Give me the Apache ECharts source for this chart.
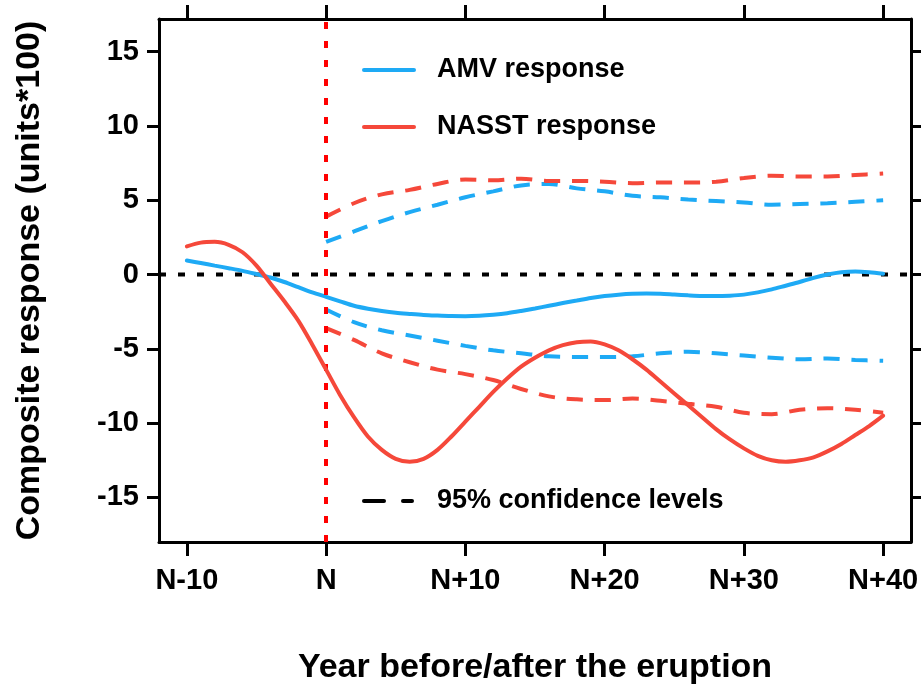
<!DOCTYPE html>
<html>
<head>
<meta charset="utf-8">
<script src="https://cdn.jsdelivr.net/npm/echarts@6/dist/echarts.min.js"></script>
<style>
html,body{margin:0;padding:0;background:#fff;}
#chart{width:922px;height:691px;}
</style>
</head>
<body>
<div id="chart"></div>
<script>
// ---- data ----
const solidYears = [-10,-9,-8,-7,-6,-5,-4,-3,-2,-1,0,1,2,3,4,5,6,7,8,9,10,11,12,13,14,15,16,17,18,19,20,21,22,23,24,25,26,27,28,29,30,31,32,33,34,35,36,37,38,39,40];
const amvResponse = [0.94,0.78,0.6,0.43,0.25,0.03,-0.2,-0.5,-0.85,-1.2,-1.5,-1.8,-2.1,-2.3,-2.45,-2.57,-2.65,-2.72,-2.76,-2.79,-2.8,-2.77,-2.7,-2.6,-2.45,-2.28,-2.1,-1.92,-1.75,-1.58,-1.45,-1.36,-1.3,-1.28,-1.3,-1.35,-1.4,-1.44,-1.45,-1.42,-1.35,-1.2,-1.0,-0.75,-0.5,-0.22,0.0,0.15,0.2,0.15,0.05];
const nasstResponse = [1.9,2.15,2.2,2.0,1.5,0.6,-0.6,-1.8,-3.1,-4.7,-6.4,-8.1,-9.6,-10.9,-11.8,-12.4,-12.6,-12.4,-11.8,-10.9,-9.9,-8.9,-7.9,-7.0,-6.2,-5.6,-5.1,-4.75,-4.55,-4.5,-4.7,-5.1,-5.7,-6.4,-7.2,-8.0,-8.8,-9.6,-10.4,-11.1,-11.7,-12.2,-12.5,-12.6,-12.5,-12.3,-11.9,-11.4,-10.8,-10.2,-9.5];

const confYears = [0,2,4,6,8,10,12,14,16,18,20,22,24,26,28,30,32,34,36,38,40];
const amvUpper = [2.2,2.9,3.6,4.2,4.7,5.2,5.6,6.0,6.1,5.8,5.6,5.3,5.2,5.05,4.95,4.85,4.7,4.75,4.8,4.9,5.0];
const amvLower = [-2.35,-3.2,-3.75,-4.1,-4.45,-4.8,-5.1,-5.3,-5.5,-5.55,-5.55,-5.5,-5.3,-5.2,-5.3,-5.45,-5.6,-5.7,-5.65,-5.75,-5.8];
const nasstUpper = [3.9,4.8,5.4,5.7,6.1,6.4,6.35,6.45,6.3,6.3,6.25,6.15,6.2,6.2,6.25,6.5,6.65,6.6,6.6,6.7,6.8];
const nasstLower = [-3.6,-4.4,-5.3,-5.9,-6.4,-6.7,-7.1,-7.7,-8.2,-8.4,-8.45,-8.35,-8.5,-8.7,-8.9,-9.3,-9.4,-9.1,-9.0,-9.1,-9.3];

const xTickValues = [-10,0,10,20,30,40];
const xTickLabels = ['N-10','N','N+10','N+20','N+30','N+40'];
const yTickValues = [-15,-10,-5,0,5,10,15];

const legendNames = ['AMV response','NASST response','95% confidence levels'];
const xTitle = 'Year before/after the eruption';
const yTitle = 'Composite response (units*100)';

// ---- styles ----
const BLUE = '#1eaaf5';
const RED = '#f5483a';
const FONT = '"Liberation Sans", Arial, Helvetica, sans-serif';

function pairs(xs, ys){ return xs.map((x,i)=>[x, ys[i]]); }
function xLabel(v){ const i = xTickValues.indexOf(v); return i >= 0 ? xTickLabels[i] : ''; }

const chart = echarts.init(document.getElementById('chart'), null, {renderer:'canvas'});

const axisLine = {show:true, onZero:false, lineStyle:{color:'#000', width:3}};

const option = {
  animation:false,
  backgroundColor:'#fff',
  grid:{left:159, right:11, top:19, bottom:149},
  xAxis:[{
    type:'value', min:-12, max:42, position:'bottom',
    axisLine:axisLine,
    axisTick:{show:true, length:14, lineStyle:{color:'#000', width:3}, customValues:xTickValues},
    axisLabel:{show:true, customValues:xTickValues, formatter:xLabel, color:'#000', fontFamily:FONT, fontWeight:'bold', fontSize:29, margin:24},
    splitLine:{show:false},
    name:xTitle, nameLocation:'middle', nameGap:109,
    nameTextStyle:{color:'#000', fontFamily:FONT, fontWeight:'bold', fontSize:34}
  },{
    type:'value', min:-12, max:42, position:'top',
    axisLine:axisLine,
    axisTick:{show:true, length:14, lineStyle:{color:'#000', width:3}, customValues:xTickValues},
    axisLabel:{show:false},
    splitLine:{show:false}
  }],
  yAxis:[{
    type:'value', min:-18, max:17.2, position:'left',
    axisLine:axisLine,
    axisTick:{show:true, length:12, lineStyle:{color:'#000', width:3}, customValues:yTickValues},
    axisLabel:{show:true, customValues:yTickValues, color:'#000', fontFamily:FONT, fontWeight:'bold', fontSize:29, margin:20},
    splitLine:{show:false},
    name:yTitle, nameLocation:'middle', nameGap:112,
    nameTextStyle:{color:'#000', fontFamily:FONT, fontWeight:'bold', fontSize:34}
  },{
    type:'value', min:-18, max:17.2, position:'right',
    axisLine:axisLine,
    axisTick:{show:true, length:10, lineStyle:{color:'#000', width:3}, customValues:yTickValues},
    axisLabel:{show:false},
    splitLine:{show:false}
  }],
  series:[
    {
      name:'zero', type:'line', data:[[-12,0],[42,0]], symbol:'none', silent:true,
      lineStyle:{color:'#000', width:4, type:[7,12]}, z:1,
      markLine:{
        silent:true, symbol:'none', label:{show:false},
        lineStyle:{color:'#ff0000', width:4, type:[7,12]},
        data:[{xAxis:0}]
      }
    },
    {name:'AMV upper', type:'line', data:pairs(confYears, amvUpper), smooth:0.35, symbol:'none',
      lineStyle:{color:BLUE, width:4, type:[16,12]}, z:3},
    {name:'AMV lower', type:'line', data:pairs(confYears, amvLower), smooth:0.35, symbol:'none',
      lineStyle:{color:BLUE, width:4, type:[16,12]}, z:3},
    {name:'NASST upper', type:'line', data:pairs(confYears, nasstUpper), smooth:0.35, symbol:'none',
      lineStyle:{color:RED, width:4, type:[16,12]}, z:3},
    {name:'NASST lower', type:'line', data:pairs(confYears, nasstLower), smooth:0.35, symbol:'none',
      lineStyle:{color:RED, width:4, type:[16,12]}, z:3},
    {name:legendNames[0], type:'line', data:pairs(solidYears, amvResponse), smooth:0.3, symbol:'none',
      lineStyle:{color:BLUE, width:4, cap:'round'}, z:4},
    {name:legendNames[1], type:'line', data:pairs(solidYears, nasstResponse), smooth:0.3, symbol:'none',
      lineStyle:{color:RED, width:4, cap:'round'}, z:5}
  ],
  graphic:[
    {type:'line', shape:{x1:364, y1:70, x2:414, y2:70}, style:{stroke:BLUE, lineWidth:4, lineCap:'round'}},
    {type:'text', x:437, y:70, style:{text:legendNames[0], fill:'#000', font:'bold 27px '+FONT, textVerticalAlign:'middle', verticalAlign:'middle'}},
    {type:'line', shape:{x1:364, y1:127, x2:414, y2:127}, style:{stroke:RED, lineWidth:4, lineCap:'round'}},
    {type:'text', x:437, y:127, style:{text:legendNames[1], fill:'#000', font:'bold 27px '+FONT, textVerticalAlign:'middle', verticalAlign:'middle'}},
    {type:'line', shape:{x1:364, y1:501, x2:384, y2:501}, style:{stroke:'#000', lineWidth:4, lineCap:'round'}},
    {type:'line', shape:{x1:403, y1:501, x2:412, y2:501}, style:{stroke:'#000', lineWidth:4, lineCap:'round'}},
    {type:'text', x:437, y:501, style:{text:legendNames[2], fill:'#000', font:'bold 27px '+FONT, textVerticalAlign:'middle', verticalAlign:'middle'}}
  ]
};
chart.setOption(option);
</script>
</body>
</html>
